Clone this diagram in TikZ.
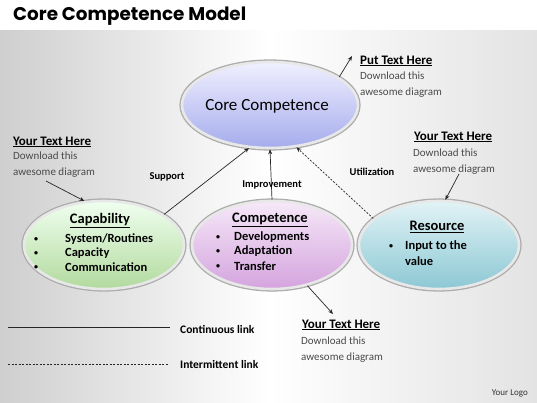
\documentclass[tikz,border=0pt]{standalone}
\usepackage{fontspec}
\usepackage{graphicx}
\setmainfont{Carlito}
\newfontfamily\titlefont{Poppins}
\usetikzlibrary{shapes.geometric,arrows.meta}
\definecolor{dtext}{HTML}{4A4A4A}
\tikzset{
  oval/.style={ellipse, minimum width=160pt, minimum height=88pt, inner sep=0pt,
    draw=gray!18, line width=2.6pt,
    preaction={draw=gray!65, line width=5.2pt}},
  conn/.style={draw=black!85, line width=0.7pt, -{Stealth[length=5pt,width=4pt]}},
  head/.style={font=\fontsize{13}{15}\selectfont\bfseries, anchor=west, inner sep=0pt},
  dl/.style={font=\fontsize{11}{16}\selectfont, text=dtext, anchor=north west, align=left, inner sep=0pt},
  lbl/.style={font=\fontsize{10.5}{12}\selectfont\bfseries, inner sep=0pt},
  otitle/.style={font=\fontsize{14.5}{16}\selectfont\bfseries, inner sep=0pt},
  blist/.style={font=\fontsize{12.5}{14.5}\selectfont\bfseries, anchor=west, inner sep=0pt},
  bdot/.style={font=\fontsize{8}{9}\selectfont\bfseries, inner sep=0pt},
}
\begin{document}
\begin{tikzpicture}[x=1pt,y=-1pt]
\useasboundingbox (0,0) rectangle (537,403);
% background
\fill[white] (0,0) rectangle (537,31);
\shade[left color=gray!38, right color=gray!22, middle color=white] (0,31) rectangle (537,403);
% title
\node[anchor=west, inner sep=0pt] (title) at (13,16) {\resizebox{233pt}{!}{\titlefont\bfseries Core Competence Model}};

% ellipses
\node[oval, minimum width=176pt, minimum height=86pt, top color=blue!6, bottom color={rgb,255:red,165;green,172;blue,236}] (core) at (270,105) {};
\node[font=\fontsize{17}{19}\selectfont] (coret) at (267,106) {Core Competence};

\node[oval, top color=green!6, bottom color={rgb,255:red,178;green,218;blue,158}] (cap) at (104,245) {};
\node[otitle] (capt) at (100,221) {\underline{Capability}};
\node[bdot] (c1b) at (36,240) {•};
\node[bdot] (c2b) at (36,254) {•};
\node[bdot] (c3b) at (36,268) {•};
\node[blist] (c1) at (65,239) {System/Routines};
\node[blist] (c2) at (65,253) {Capacity};
\node[blist] (c3) at (65,267) {Communication};

\node[oval, top color={rgb,255:red,246;green,232;blue,248}, bottom color={rgb,255:red,212;green,164;blue,222}] (comp) at (272,245) {};
\node[otitle] (compt) at (270,220) {\underline{Competence}};
\node[bdot] (d1b) at (218,238) {•};
\node[bdot] (d2b) at (218,252) {•};
\node[bdot] (d3b) at (218,267) {•};
\node[blist] (d1) at (234,237) {Developments};
\node[blist] (d2) at (234,251) {Adaptation};
\node[blist] (d3) at (234,266) {Transfer};

\node[oval, top color={rgb,255:red,226;green,243;blue,246}, bottom color={rgb,255:red,140;green,200;blue,212}] (res) at (439,245) {};
\node[otitle] (rest) at (437,227) {\underline{Resource}};
\node[bdot] (r1b) at (391,247) {•};
\node[blist] (r1) at (405,246) {Input to the};
\node[blist] (r2) at (405,261) {value};

% connectors
\draw[conn] (cap.27) -- (core.244);
\draw[conn] (comp.90) -- (core.270);
\draw[conn, dashed, dash pattern=on 2pt off 1.5pt] (res.158) -- (core.302);
\node[lbl] (sup) at (167,177) {Support};
\node[lbl] (imp) at (272,185) {Improvement};
\node[lbl] (uti) at (372,172) {Utilization};

% callouts
\node[head] (h1) at (13,142) {\underline{Your Text Here}};
\node[dl] (t1) at (13,152) {Download this\\awesome diagram};
\coordinate (a1) at (46,181);
\draw[conn] (a1) -- (cap.114);

\node[head] (h2) at (360,61) {\underline{Put Text Here}};
\node[dl] (t2) at (360,72) {Download this\\awesome diagram};
\coordinate (a2) at (352,56);
\draw[conn] (core.22) -- (a2);

\node[head] (h3) at (414,137) {\underline{Your Text Here}};
\node[dl] (t3) at (413,149) {Download this\\awesome diagram};
\coordinate (a3) at (459,174);
\draw[conn] (a3) -- (res.82);

\node[head] (h4) at (302,325) {\underline{Your Text Here}};
\node[dl] (t4) at (301,337) {Download this\\awesome diagram};
\coordinate (a4) at (333,314);
\draw[conn] (comp.-49) -- (a4);

% legend
\coordinate (l1a) at (8,327);
\coordinate (l1b) at (170,327);
\coordinate (l2a) at (8,364);
\coordinate (l2b) at (168,364);
\draw[black!85, line width=0.8pt] (l1a) -- (l1b);
\draw[black!85, line width=0.7pt, dash pattern=on 2pt off 1.5pt] (l2a) -- (l2b);
\node[lbl, font=\fontsize{11.5}{13}\selectfont\bfseries, anchor=west] (cl) at (180,329) {Continuous link};
\node[lbl, font=\fontsize{11.5}{13}\selectfont\bfseries, anchor=west] (il) at (180,365) {Intermittent link};
\node[font=\fontsize{9}{10}\selectfont, text=black!80, anchor=east, inner sep=0pt] (logo) at (528,393) {Your Logo};
\end{tikzpicture}
\end{document}
